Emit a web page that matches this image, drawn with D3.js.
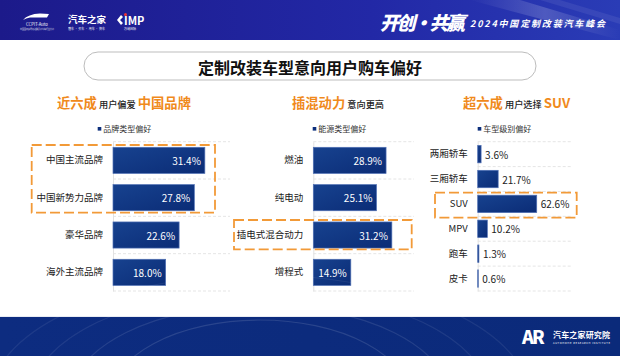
<!DOCTYPE html>
<html><head><meta charset="utf-8">
<script src="https://cdn.jsdelivr.net/npm/d3@7"></script>
<style>
html,body{margin:0;padding:0;background:#fff;}
svg{display:block;font-family:"Noto Sans CJK SC","Noto Sans",sans-serif;}
</style></head>
<body>
<svg id="c" width="620" height="356"></svg>
<script>
// ---- data ----
const brandCats = ["中国主流品牌","中国新势力品牌","豪华品牌","海外主流品牌"];
const brandVals = [31.4, 27.8, 22.6, 18.0];
const energyCats = ["燃油","纯电动","插电式混合动力","增程式"];
const energyVals = [28.9, 25.1, 31.2, 14.9];
const classCats = ["两厢轿车","三厢轿车","SUV","MPV","跑车","皮卡"];
const classVals = [3.6, 21.7, 62.6, 10.2, 1.3, 0.6];
const legendNames = ["品牌类型偏好","能源类型偏好","车型级别偏好"];
const titleText = "定制改装车型意向用户购车偏好";
const sourceText = "数据来源：汽车之家调研数据，定制改装车型意向用户。";

const svg = d3.select("#c");
const defs = svg.append("defs");
const orange = "#f08a1c";
const dashOrange = "#f29a38";

// gradients
const hg = defs.append("linearGradient").attr("id","hdr").attr("x1","0").attr("x2","1").attr("y1","0").attr("y2","0");
hg.append("stop").attr("offset","0").attr("stop-color","#1c1a8a");
hg.append("stop").attr("offset","0.6").attr("stop-color","#2228a6");
hg.append("stop").attr("offset","1").attr("stop-color","#2a3cb6");
const fg = defs.append("linearGradient").attr("id","ftr").attr("x1","0").attr("x2","1");
fg.append("stop").attr("offset","0").attr("stop-color","#0d2c80");
fg.append("stop").attr("offset","1").attr("stop-color","#0b2a7a");
const bg = defs.append("linearGradient").attr("id","bar").attr("x1","0").attr("x2","1").attr("y1","0").attr("y2","1");
bg.append("stop").attr("offset","0").attr("stop-color","#17428f");
bg.append("stop").attr("offset","1").attr("stop-color","#0b2c76");
const sg = defs.append("linearGradient").attr("id","streak").attr("x1","0").attr("x2","1");
sg.append("stop").attr("offset","0").attr("stop-color","#ffffff").attr("stop-opacity","0");
sg.append("stop").attr("offset","0.5").attr("stop-color","#ffffff").attr("stop-opacity","0.18");
sg.append("stop").attr("offset","1").attr("stop-color","#ffffff").attr("stop-opacity","0");

// ---- header ----
svg.append("rect").attr("x",0).attr("y",0).attr("width",620).attr("height",40).attr("fill","url(#hdr)");
svg.append("path").attr("d","M470,0 L520,0 L620,30 L620,40 Z").attr("fill","url(#streak)");
svg.append("path").attr("d","M540,0 L560,0 L620,18 L620,24 Z").attr("fill","#ffffff").attr("opacity",0.07);

// logos (approximations)
const lg = svg.append("g").attr("fill","#fff");
lg.append("path").attr("d","M23,20 Q28,14 40,13.5 L49,14 L47,17.5 L30,17.5 Q26,18 23,20 Z");
lg.append("text").attr("x",37).attr("y",25.5).attr("font-size",4.2).attr("text-anchor","middle").text("CCPIT-Auto");
lg.append("text").attr("x",37).attr("y",30).attr("font-size",2).attr("text-anchor","middle").attr("opacity",0.8).text("中国国际贸易促进委员会汽车行业分会");
lg.append("text").attr("x",68).attr("y",23).attr("font-size",9.5).attr("font-weight",700).text("汽车之家");
lg.append("text").attr("x",68).attr("y",29.5).attr("font-size",3).attr("opacity",0.9).text("懂车 · 买车 · 用车 · 换车");
lg.append("path").attr("d","M117,20 L121,15 L123,17 L120,20 L123,23 L121,25 Z");
lg.append("text").attr("x",124).attr("y",25).attr("font-size",11).attr("font-weight",700).text("IMP");
lg.append("circle").attr("cx",125.5).attr("cy",14.5).attr("r",1.5).attr("fill","#e33");
lg.append("text").attr("x",124).attr("y",30).attr("font-size",3).text("万纳国际");

svg.append("text").attr("x",380).attr("y",30).attr("font-size",19).attr("font-weight",900)
  .attr("font-style","italic").attr("fill","#fff").attr("textLength",85).text("开创·共赢");
svg.append("text").attr("x",470).attr("y",27).attr("font-size",9).attr("font-weight",700)
  .attr("font-style","italic").attr("fill","#fff").attr("textLength",135).text("2024中国定制改装汽车峰会");

// ---- title pill ----
svg.append("rect").attr("x",84).attr("y",52).attr("width",452).attr("height",28).attr("rx",14)
  .attr("fill","#fff").attr("stroke","#bdbdbd").attr("stroke-width",1);
svg.append("text").attr("x",310).attr("y",66.5).attr("dominant-baseline","central").attr("text-anchor","middle")
  .attr("font-size",16).attr("font-weight",700).attr("fill","#111").text(titleText);

// ---- headings ----
function heading(x, parts){
  const t = svg.append("text").attr("x",x).attr("y",107.5);
  parts.forEach(p=>{
    t.append("tspan").attr("font-size",p[1]?13.3:9.2).attr("font-weight",p[1]?700:500)
     .attr("fill",p[1]?orange:"#222").text(p[0]);
  });
}
heading(57, [["近六成",1],[" 用户偏爱 ",0],["中国品牌",1]]);
heading(292, [["插混动力",1],[" 意向更高",0]]);
heading(463, [["超六成",1],[" 用户选择 ",0],["SUV",1]]);

// ---- panels ----
const y0 = 141.7, y1 = 291;
function panel(cfg){
  const g = svg.append("g");
  const x = d3.scaleLinear().domain(cfg.domain).range([cfg.x0, cfg.x1]);
  const y = d3.scaleBand().domain(cfg.cats).range([y0, y1]).paddingInner(0.3).paddingOuter(0.15);
  const bounds = d3.range(cfg.cats.length + 1).map(i => y0 + i * y.step());
  g.selectAll("line.grid").data(bounds).join("line")
    .attr("x1", x(cfg.domain[0])).attr("x2", x(cfg.domain[1]))
    .attr("y1", d=>d).attr("y2", d=>d)
    .attr("stroke","#dedede").attr("stroke-width",0.8).attr("stroke-dasharray","3,2");
  const ax = g.append("g").attr("transform",`translate(${x(0)},0)`)
    .call(d3.axisLeft(y).tickSize(0).tickPadding(10));
  ax.select(".domain").attr("stroke","#e2e2e2");
  ax.selectAll("text").attr("font-size",9.5).attr("fill","#222")
    .attr("font-family",'"Noto Sans CJK SC","Noto Sans",sans-serif');
  const data = cfg.cats.map((c,i)=>({c, v:cfg.vals[i]}));
  g.selectAll("rect.bar").data(data).join("rect")
    .attr("x", x(0)).attr("y", d=>y(d.c))
    .attr("width", d=>x(d.v)-x(0)).attr("height", y.bandwidth())
    .attr("fill","url(#bar)").attr("stroke","#4f6fb4").attr("stroke-width",0.7);
  g.selectAll("text.val").data(data).join("text")
    .attr("x", d=> cfg.inside ? x(d.v)-4 : x(d.v)+4)
    .attr("y", d=>y(d.c)+y.bandwidth()/2)
    .attr("dominant-baseline","central")
    .attr("text-anchor", cfg.inside ? "end" : "start")
    .attr("font-size",10).attr("fill", cfg.inside ? "#fff" : "#222")
    .text(d=>d.v.toFixed(1)+"%");
  g.append("rect").attr("x",cfg.lx).attr("y",127).attr("width",3.6).attr("height",3.6).attr("fill","#0d2f7c");
  g.append("text").attr("x",cfg.lx+5.5).attr("y",128.8).attr("dominant-baseline","central")
    .attr("font-size",8).attr("fill","#333").text(cfg.legend);
}
panel({cats:brandCats, vals:brandVals, domain:[0,40], x0:113, x1:230, inside:true, lx:97.7, legend:legendNames[0]});
panel({cats:energyCats, vals:energyVals, domain:[0,40], x0:313.3, x1:414, inside:true, lx:312.7, legend:legendNames[1]});
panel({cats:classCats, vals:classVals, domain:[0,100], x0:477.7, x1:572, inside:false, lx:477.7, legend:legendNames[2]});

// ---- orange highlight boxes ----
function box(x,y,w,h){
  svg.append("rect").attr("x",x).attr("y",y).attr("width",w).attr("height",h)
    .attr("fill","none").attr("stroke",dashOrange).attr("stroke-width",1.8).attr("stroke-dasharray","10,4");
}
box(31.7,145,183.3,67.7);
box(234,220,177.7,29.3);
box(435,192.7,141.7,25);

// ---- source ----
svg.append("text").attr("x",32).attr("y",312.5).attr("font-size",4.6).attr("fill","#333").text(sourceText);

// ---- footer ----
svg.append("rect").attr("x",0).attr("y",316.7).attr("width",620).attr("height",40).attr("fill","url(#ftr)");
const arcs = svg.append("g").attr("fill","none").attr("stroke","#ffffff");
[[150,80,0.12],[190,95,0.10],[230,110,0.08],[270,125,0.07]].forEach(a=>{
  arcs.append("ellipse").attr("cx",260).attr("cy",400).attr("rx",a[0]).attr("ry",a[1]).attr("stroke-opacity",a[2]).attr("stroke-width",1.2);
});
svg.append("rect").attr("x",0).attr("y",300).attr("width",620).attr("height",16.7).attr("fill","#fff");
const ar = svg.append("g").attr("fill","#fff");
ar.append("text").attr("x",522).attr("y",344).attr("font-size",18).attr("font-weight",900).attr("letter-spacing",-2).text("AR");
ar.append("text").attr("x",553).attr("y",337.5).attr("font-size",8).attr("font-weight",700).attr("textLength",57).text("汽车之家研究院");
ar.append("text").attr("x",553).attr("y",343.5).attr("font-size",2.6).attr("textLength",57).text("AUTOHOME RESEARCH INSTITUTE");
</script>
</body></html>
